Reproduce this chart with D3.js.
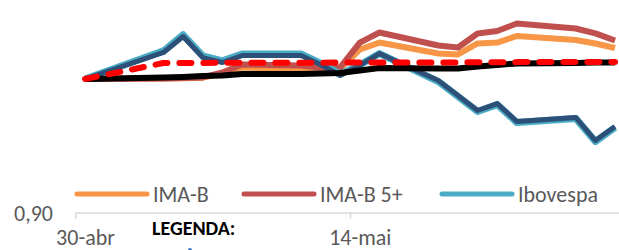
<!DOCTYPE html>
<html>
<head>
<meta charset="utf-8">
<script src="https://cdn.jsdelivr.net/npm/d3@7"></script>
<style>
  html, body { margin: 0; padding: 0; background: #fff; overflow: hidden; }
  svg { display: block; font-family: Carlito, Calibri, Lato, sans-serif; }
</style>
</head>
<body>
<svg id="chart" width="619" height="250"></svg>
<script>
// ---- data (trading days, Apr 30 – May 27) ----
const dates = ["2015-04-30","2015-05-04","2015-05-05","2015-05-06","2015-05-07","2015-05-08",
  "2015-05-11","2015-05-12","2015-05-13","2015-05-14","2015-05-15",
  "2015-05-18","2015-05-19","2015-05-20","2015-05-21","2015-05-22",
  "2015-05-25","2015-05-26","2015-05-27"];
const imaB    = [1.0000,1.0003,1.0006,1.0010,1.0041,1.0086,1.0071,1.0063,1.0078,1.0220,1.0272,1.0190,1.0183,1.0265,1.0272,1.0321,1.0291,1.0265,1.0231];
const imaB5   = [1.0000,1.0004,1.0007,1.0012,1.0049,1.0108,1.0101,1.0086,1.0086,1.0272,1.0347,1.0250,1.0235,1.0340,1.0358,1.0414,1.0377,1.0340,1.0287];
const ibovespa= [1.0000,1.0210,1.0330,1.0172,1.0135,1.0187,1.0187,1.0118,1.0036,1.0105,1.0190,0.9981,0.9869,0.9757,0.9809,0.9675,0.9705,0.9533,0.9638];
const ibrx    = [1.0000,1.0198,1.0317,1.0160,1.0123,1.0175,1.0175,1.0108,1.0026,1.0101,1.0190,0.9989,0.9877,0.9765,0.9817,0.9683,0.9713,0.9541,0.9646];
const cdi     = [1.0000,1.0011,1.0015,1.0022,1.0026,1.0037,1.0037,1.0041,1.0045,1.0063,1.0082,1.0078,1.0078,1.0093,1.0104,1.0116,1.0119,1.0123,1.0123];
const meta    = [1.0000,1.0119,1.0120,1.0120,1.0121,1.0121,1.0122,1.0122,1.0123,1.0123,1.0123,1.0124,1.0124,1.0125,1.0125,1.0126,1.0126,1.0127,1.0127];
const xTickLabels = ["2015-04-30","2015-05-14"];
const yTickValues = [0.90];
const legendNames = ["IMA-B","IMA-B 5+","Ibovespa"];

const parse = d3.timeParse("%Y-%m-%d");
const dts = dates.map(parse);
const DAY = 24*3600*1000;
const FONT = "Carlito, Calibri, Lato, sans-serif";

const svg = d3.select("#chart");
const x = d3.scaleTime().domain([dts[0], dts[dts.length-1]]).range([85, 615]);
const y = d3.scaleLinear().domain([0.90, 1.00]).range([213, 79]);

const ptBR = d3.formatLocale({decimal: ",", thousands: ".", grouping: [3], currency: ["R$ ", ""]});
const meses = ["jan","fev","mar","abr","mai","jun","jul","ago","set","out","nov","dez"];
const fmtDate = d => d.getDate() + "-" + meses[d.getMonth()];

// x axis
const halfDay = x(new Date(+dts[0] + DAY/2)) - x(dts[0]);
const xAxis = d3.axisBottom(x).tickValues(xTickLabels.map(parse)).tickSize(0).tickFormat(fmtDate);
const gx = svg.append("g").attr("transform", "translate(0,213)").call(xAxis);
gx.select(".domain").remove();
gx.append("line")
  .attr("x1", x(dts[0]) - halfDay).attr("x2", 619)
  .attr("y1", 0).attr("y2", 0)
  .attr("stroke", "#d9d9d9").attr("stroke-width", 1.5);
gx.selectAll(".tick").append("line")
  .attr("x1", -halfDay).attr("x2", -halfDay)
  .attr("y1", 0).attr("y2", 6)
  .attr("stroke", "#d9d9d9").attr("stroke-width", 1.5);
gx.selectAll(".tick text")
  .attr("y", 31.5).attr("dy", 0)
  .attr("fill", "#595959").attr("font-size", 22)
  .attr("font-family", FONT);

// y axis
const yAxis = d3.axisLeft(y).tickValues(yTickValues).tickSize(0).tickFormat(ptBR.format(".2f"));
const gy = svg.append("g").attr("transform", "translate(53,0)").call(yAxis);
gy.select(".domain").remove();
gy.selectAll(".tick text")
  .attr("x", 0).attr("dy", "0.34em")
  .attr("fill", "#595959").attr("font-size", 22)
  .attr("font-family", FONT);

// lines
const line = d3.line().x((d, i) => x(dts[i])).y(d => y(d));
const series = [
  {data: imaB,     color: "#F79646", width: 6},
  {data: imaB5,    color: "#C0504D", width: 6},
  {data: ibovespa, color: "#4BACC6", width: 7},
  {data: ibrx,     color: "#2D5079", width: 5},
  {data: cdi,      color: "#000000", width: 6},
  {data: meta,     color: "#FF0000", width: 6, dash: "12,12"}
];
series.forEach(s => {
  svg.append("path")
    .datum(s.data)
    .attr("d", line)
    .attr("fill", "none")
    .attr("stroke", s.color)
    .attr("stroke-width", s.width)
    .attr("stroke-linejoin", "round")
    .attr("stroke-linecap", s.dash ? "round" : "butt")
    .attr("stroke-dasharray", s.dash || null);
});

// legend
const legColors = ["#F79646","#C0504D","#4BACC6"];
const legX = [77, 244, 442];
const leg = svg.append("g");
legendNames.forEach((name, i) => {
  leg.append("line")
    .attr("x1", legX[i]).attr("x2", legX[i] + 70)
    .attr("y1", 194).attr("y2", 194)
    .attr("stroke", legColors[i]).attr("stroke-width", 5).attr("stroke-linecap", "round");
  leg.append("text")
    .attr("x", legX[i] + 76).attr("y", 202)
    .attr("fill", "#595959").attr("font-size", 22)
    .text(name);
});

// "LEGENDA:" caption
svg.append("text")
  .attr("x", 152).attr("y", 235)
  .attr("font-size", 20).attr("font-weight", "bold").attr("fill", "#000")
  .text("LEGENDA:");
svg.append("circle").attr("cx", 190).attr("cy", 250).attr("r", 2).attr("fill", "#4472C4");
</script>
</body>
</html>
